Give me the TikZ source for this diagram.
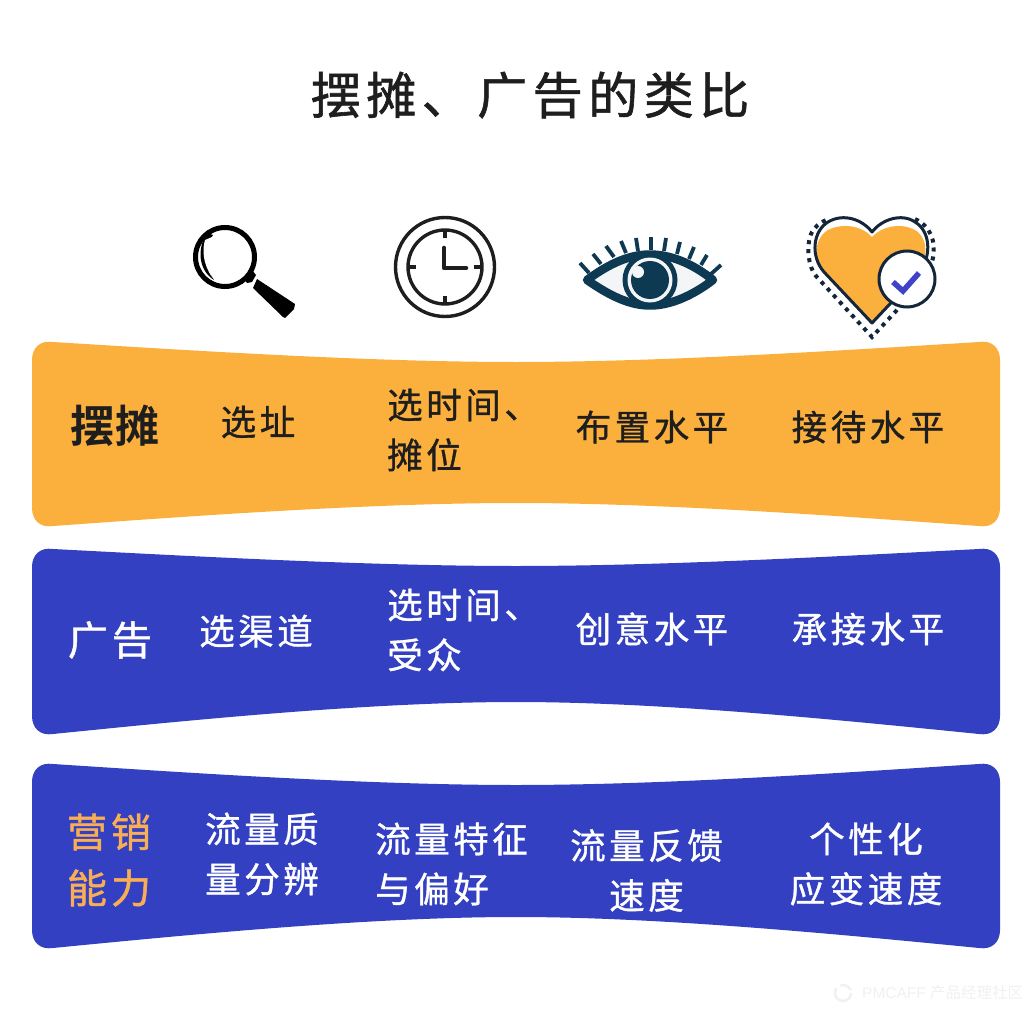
\documentclass[tikz,border=0pt]{standalone}
\usepackage{fontspec}
\setmainfont{Liberation Sans}
\newfontfamily\cjk{Noto Sans CJK SC}
\newfontfamily\cjkT[LetterSpace=11,FakeBold=1.2]{Noto Sans CJK SC}
\newfontfamily\cjkB[LetterSpace=4.5,BoldFont={Noto Sans CJK SC Bold}]{Noto Sans CJK SC}
\newfontfamily\cjkL[LetterSpace=10,FakeBold=1.0]{Noto Sans CJK SC}
\newfontfamily\cjkM[LetterSpace=10,FakeBold=1.2]{Noto Sans CJK SC}
\definecolor{orangeband}{HTML}{FBB03E}
\definecolor{blueband}{HTML}{3240C1}
\definecolor{inkdark}{HTML}{1E1E1E}
\definecolor{eyeink}{HTML}{0D3A52}
\definecolor{heartink}{HTML}{14263A}
\definecolor{goldtext}{HTML}{F9AE55}
\definecolor{checkblue}{HTML}{3F43C9}
\definecolor{wmark}{HTML}{F1F1F1}
\tikzset{
  titletext/.style={font=\cjkT\fontsize{50}{56}\selectfont,text=inkdark,inner sep=0pt},
  celltext/.style={font=\cjkL\fontsize{35.5}{50}\selectfont,inner sep=0pt,align=center},
  leftcell/.style={celltext,align=left,anchor=west},
  rowhead/.style={font=\cjkM\fontsize{40}{56}\selectfont,inner sep=0pt,align=center},
  darktext/.style={text=inkdark},
  whitetext/.style={text=white},
  eyeline/.style={draw=eyeink,line width=3.2pt},
}
% #1 fill, #2 top-end y, #3 top-mid y, #4 bottom-end y, #5 bottom-mid y
\newcommand{\bandshape}[5]{%
  \fill[#1] (32,#2+19) .. controls (32,#2+7) and (40,#2-1) .. (53,#2+1)
    .. controls (190,{#2+0.45*(#3-#2)}) and (370,#3) .. (516,#3)
    .. controls (662,#3) and (842,{#2+0.45*(#3-#2)}) .. (979,#2+1)
    .. controls (992,#2-1) and (1000,#2+7) .. (1000,#2+19)
    -- (1000,#4-19) .. controls (1000,#4-7) and (992,#4+1) .. (979,#4-1)
    .. controls (842,{#4+0.45*(#5-#4)}) and (662,#5) .. (516,#5)
    .. controls (370,#5) and (190,{#4+0.45*(#5-#4)}) .. (53,#4-1)
    .. controls (40,#4+1) and (32,#4-7) .. (32,#4-19) -- cycle;}
\begin{document}
\begin{tikzpicture}[x=1pt,y=-1pt]
\useasboundingbox (0,0) rectangle (1034,1014);
\fill[white] (0,0) rectangle (1034,1014);
\node[titletext] (title) at (530,95) {摆摊、广告的类比};

% bands
\bandshape{orangeband}{341}{362}{527}{503}
\bandshape{blueband}{548}{566}{735}{702}
\bandshape{blueband}{763}{785}{949}{917}

% magnifier
\draw[black,line width=5pt] (225,257) circle (29.5);
\fill[black] (207,233) .. controls (197,248) and (198,270) .. (214,280)
  .. controls (204,266) and (204,246) .. (213,235) -- cycle;
\fill[white] (205,240) .. controls (202,250) and (203,264) .. (212,277)
  .. controls (207,264) and (206,248) .. (212,237) -- cycle;
\fill[black] (244,279) -- (252,270) -- (256,275) -- (252,282) -- (247,283) -- cycle;
\fill[black] (257,279) -- (295,304) -- (294,309) -- (285,318) -- (283,317) -- (253,288) -- cycle;

% clock
\draw[inkdark,line width=3.4pt] (445,267) circle (49.5);
\draw[inkdark,line width=3.4pt] (445,267) circle (37);
\draw[inkdark,line width=3.4pt] (445,230) -- (445,238);
\draw[inkdark,line width=3.4pt] (445,296) -- (445,304);
\draw[inkdark,line width=3.4pt] (408,267) -- (416,267);
\draw[inkdark,line width=3.4pt] (474,267) -- (482,267);
\draw[inkdark,line width=4.6pt,line cap=round,line join=round] (444,248) -- (444,268) -- (466,268);

% eye
\draw[eyeline,line width=8.5pt,fill=white!95!eyeink,line join=round]
  (587,280) .. controls (610,263) and (630,254.5) .. (650,254.5)
  .. controls (670,254.5) and (692,263) .. (713,280)
  .. controls (692,296) and (670,305.5) .. (650,305.5)
  .. controls (630,305.5) and (610,296) .. (587,280) -- cycle;
\foreach \xa/\ya/\xb/\yb in {589/273/580/263, 601/264/593/254, 614/257/606/246, 626/253/621/241, 638/251/636/238, 651/250/651/237, 664/251/666/238, 677/254/680/242, 689/259/694/247, 701/265/707/255, 711/274/721/265}
  \draw[eyeink,line width=3.8pt] (\xa,\ya) -- (\xb,\yb);
\fill[eyeink] (650,280) circle (27.5);
\fill[white!95!eyeink] (650,280) circle (22.5);
\fill[eyeink] (650,280) circle (19);
\fill[white!95!eyeink] (638,272) circle (6);

% heart
\draw[heartink,line width=4pt,dash pattern=on 4pt off 5pt]
  (897,310) -- (872,337) -- (816,276) .. controls (806,264) and (806,236) .. (815,228)
  .. controls (818,224) and (822,222) .. (826,220);
\draw[heartink,line width=4pt,dash pattern=on 4pt off 5pt]
  (915,219) .. controls (930,226) and (936,240) .. (933,258) -- (931,265);
\fill[orangeband] (872,322) -- (824,272) .. controls (812,256) and (815,236) .. (830,229)
  .. controls (845,223) and (862,226) .. (872,237)
  .. controls (882,226) and (900,223) .. (913,229)
  .. controls (928,236) and (928,254) .. (920,272) -- cycle;
\draw[heartink,line width=3pt,line join=round] (872,323) -- (824,272)
  .. controls (810,256) and (813,231) .. (828,222)
  .. controls (843,213) and (862,219) .. (872,232)
  .. controls (882,219) and (902,213) .. (915,222)
  .. controls (930,231) and (932,254) .. (920,272) -- cycle;
\draw[heartink,line width=3pt,fill=white] (907,279) circle (28);
\draw[checkblue,line width=5.5pt] (893,282) -- (903,291) -- (919,273);

% row texts
\node[rowhead,darktext,font=\cjkB\bfseries\fontsize{44}{56}\selectfont] (r1) at (115,426) {摆摊};
\node[celltext,darktext] (a1) at (258,422) {选址};
\node[leftcell,darktext] (a2) at (387,430) {选时间、\\摊位};
\node[celltext,darktext] (a3) at (652,427) {布置水平};
\node[celltext,darktext] (a4) at (868,427) {接待水平};

\node[rowhead,whitetext] (r2) at (110,640) {广告};
\node[celltext,whitetext] (b1) at (256,631) {选渠道};
\node[leftcell,whitetext] (b2) at (387,630) {选时间、\\受众};
\node[celltext,whitetext] (b3) at (652,629) {创意水平};
\node[celltext,whitetext] (b4) at (868,629) {承接水平};

\node[rowhead,text=goldtext] (r3) at (109,860) {营销\\能力};
\node[leftcell,whitetext] (c1) at (205,854) {流量质\\量分辨};
\node[leftcell,whitetext] (c2) at (375,864) {流量特征\\与偏好};
\node[celltext,whitetext] (c3) at (646.5,870.5) {流量反馈\\速度};
\node[celltext,whitetext] (c4) at (866,864) {个性化\\应变速度};

% watermark
\draw[wmark,line width=2.5pt,dash pattern=on 30pt off 5pt on 12pt off 3pt] (843,993) circle (8);
\node[font=\fontsize{15.5}{18}\selectfont,text=wmark,inner sep=0pt,anchor=west] (wm) at (862,993) {PMCAFF {\cjk 产品经理社区}};
\end{tikzpicture}
\end{document}
